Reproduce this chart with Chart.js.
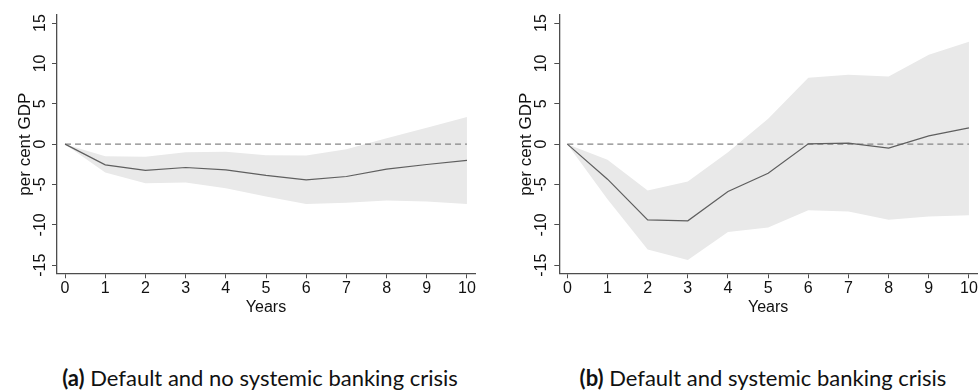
<!DOCTYPE html>
<html lang="en">
<head>
  <meta charset="UTF-8" />
  <title>Debt response after default</title>
  <style>
    body {
      margin: 0;
      background: white;
    }

    .page {
      position: relative;
      width: 979px;
      height: 392px;
      overflow: hidden;
    }

    canvas {
      position: absolute;
      top: 0;
    }

    #chartA { left: 0; }
    #chartB { left: 489px; }

    .caption {
      position: absolute;
      top: 365px;
      transform: translateX(-50%);
      white-space: nowrap;
      font-family: Lato, 'Noto Sans', sans-serif;
      font-size: 22px;
      line-height: 26px;
      color: #111;
    }

    .caption b { font-weight: 700; }
  </style>
</head>
<body>

  <div class="page">
    <canvas id="chartA" width="490" height="325"></canvas>
    <canvas id="chartB" width="490" height="325"></canvas>
    <div class="caption" style="left: 260px;"><b>(a)</b> Default and no systemic banking crisis</div>
    <div class="caption" style="left: 763px;"><b>(b)</b> Default and systemic banking crisis</div>
  </div>

  <script src="https://cdn.jsdelivr.net/npm/chart.js"></script>
  <script>
    // horizon in years and axis ticks
    const years = [0, 1, 2, 3, 4, 5, 6, 7, 8, 9, 10];
    const yTicks = [-15, -10, -5, 0, 5, 10, 15];
    const zeroLine = [0, 0];

    // (a) default, no systemic banking crisis
    const estA  = [0, -2.56, -3.26, -2.89, -3.18, -3.88, -4.42, -4.01, -3.10, -2.52, -2.02];
    const upperA = [0, -1.49, -1.57, -0.99, -0.95, -1.36, -1.40, -0.62, 0.74, 2.02, 3.35];
    const lowerA = [0, -3.51, -4.83, -4.75, -5.45, -6.49, -7.40, -7.27, -6.98, -7.11, -7.40];

    // (b) default and systemic banking crisis
    const estB  = [0, -4.34, -9.38, -9.50, -5.87, -3.60, 0.04, 0.12, -0.50, 1.03, 2.02];
    const upperB = [0, -1.94, -5.74, -4.63, -0.99, 3.14, 8.22, 8.60, 8.39, 11.07, 12.69];
    const lowerB = [0, -6.82, -13.06, -14.34, -10.87, -10.33, -8.18, -8.35, -9.38, -8.97, -8.80];

    const axisColor = '#4d4d4d';
    const tickFont = { family: "'Liberation Sans', Arial, sans-serif", size: 16 };

    function pts(values) {
      return values.map((v, i) => ({ x: years[i], y: v }));
    }

    function drawPanel(id, est, upper, lower, opts) {
      const ctx = document.getElementById(id).getContext('2d');
      return new Chart(ctx, {
        type: 'line',
        data: {
          datasets: [
            {
              data: pts(est),
              borderColor: '#5f5f5f',
              borderWidth: 1.2,
              pointRadius: 0,
              fill: false
            },
            {
              data: [{ x: years[0], y: zeroLine[0] }, { x: years[years.length - 1], y: zeroLine[1] }],
              borderColor: '#858585',
              borderWidth: 1.2,
              borderDash: [6, 4],
              pointRadius: 0,
              fill: false
            },
            {
              data: pts(upper),
              borderWidth: 0,
              borderColor: 'rgba(0,0,0,0)',
              backgroundColor: '#e9e9e9',
              pointRadius: 0,
              fill: '+1'
            },
            {
              data: pts(lower),
              borderWidth: 0,
              borderColor: 'rgba(0,0,0,0)',
              pointRadius: 0,
              fill: false
            }
          ]
        },
        options: {
          responsive: false,
          animation: false,
          layout: { padding: { top: 15, right: opts.padRight, left: 0, bottom: 0 } },
          plugins: {
            legend: { display: false },
            tooltip: { enabled: false }
          },
          scales: {
            x: {
              type: 'linear',
              min: -0.2,
              max: 10.2,
              afterBuildTicks: s => { s.ticks = years.map(v => ({ value: v })); },
              afterFit: s => { s.height = 51.7; },
              grid: { drawOnChartArea: false, tickLength: 5, color: axisColor },
              border: { color: axisColor, width: 1.3 },
              ticks: { font: tickFont, color: '#111', padding: 1, maxRotation: 0 },
              title: {
                display: true,
                text: 'Years',
                font: tickFont,
                color: '#111',
                padding: { top: 0, bottom: 7.4 }
              }
            },
            y: {
              min: -16,
              max: 16,
              afterBuildTicks: s => { s.ticks = yTicks.map(v => ({ value: v })); },
              afterFit: s => { s.width = opts.axisWidth; },
              grid: { drawOnChartArea: false, tickLength: 5, color: axisColor },
              border: { color: axisColor, width: 1.3 },
              ticks: {
                font: tickFont,
                color: '#111',
                minRotation: 90,
                maxRotation: 90,
                crossAlign: 'center',
                padding: opts.tickPad
              },
              title: {
                display: true,
                text: 'per cent GDP',
                font: { family: "'Liberation Sans', Arial, sans-serif", size: 17 },
                color: '#111',
                padding: { top: opts.titlePad, bottom: 0 }
              }
            }
          }
        }
      });
    }

    drawPanel('chartA', estA, upperA, lowerA, { padRight: 15, axisWidth: 57, tickPad: 0, titlePad: 14.8 });
    drawPanel('chartB', estB, upperB, lowerB, { padRight: 2, axisWidth: 70.3, tickPad: 1, titlePad: 27.5 });
  </script>

</body>
</html>
